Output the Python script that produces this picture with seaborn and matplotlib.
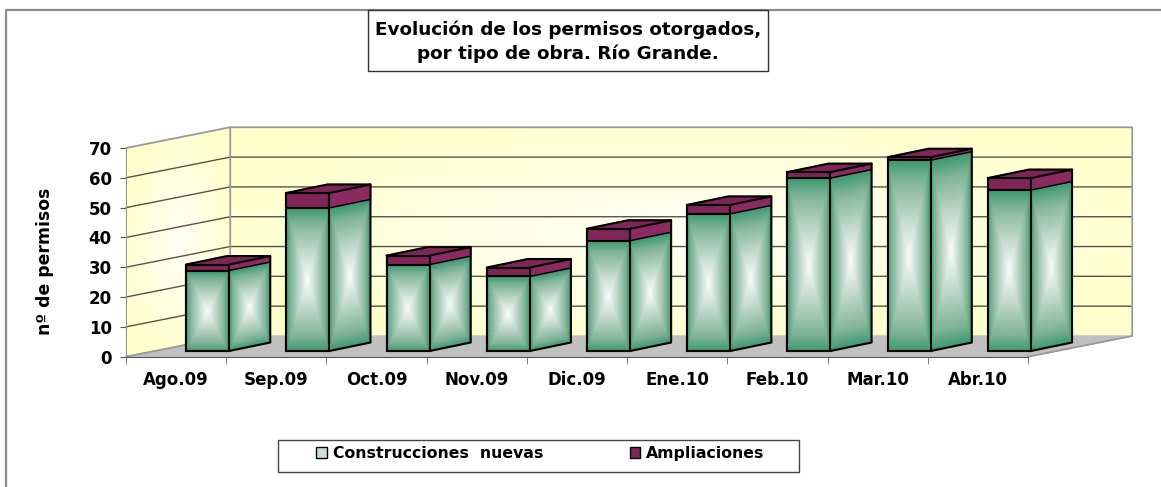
import numpy as np
import pandas as pd
import matplotlib
matplotlib.use("Agg")
import matplotlib.pyplot as plt
from matplotlib.colors import LinearSegmentedColormap
from matplotlib.lines import Line2D
from matplotlib.patches import Rectangle
import seaborn as sns

meses = ["Ago.09", "Sep.09", "Oct.09", "Nov.09", "Dic.09", "Ene.10", "Feb.10", "Mar.10", "Abr.10"]
nuevas = [27, 48, 29, 25, 37, 46, 58, 64, 54]
ampliaciones = [2, 5, 3, 3, 4, 3, 2, 1, 4]
ticks_y = [0, 10, 20, 30, 40, 50, 60, 70]

VERDE = "#3b9a70"
ROJO = "#7f2558"
W, H = 1161, 487

sns.set_style("ticks")
plt.rcParams["font.family"] = ["DejaVu Sans"]
plt.rcParams["font.weight"] = "bold"
plt.rcParams["text.color"] = "black"
plt.rcParams["axes.labelcolor"] = "black"
plt.rcParams["xtick.labelcolor"] = "black"
plt.rcParams["ytick.labelcolor"] = "black"

df = pd.DataFrame({"pos": np.arange(len(meses)), "nuevas": nuevas, "ampliaciones": ampliaciones})
df["total"] = df.nuevas + df.ampliaciones

fig = plt.figure(figsize=(W / 100, H / 100), dpi=100)
fig.patch.set_facecolor("white")


def caja(x0, y0, x1, y1):
    # pixels of the picture -> figure fractions
    return [x0 / W, 1 - y1 / H, (x1 - x0) / W, (y1 - y0) / H]


malla_u, malla_v = np.meshgrid(np.linspace(-1, 1, 61), np.linspace(-1, 1, 61))
s = (malla_u + 1) / 2
r = (malla_v + 1) / 2
brillo = np.maximum(np.abs(malla_u), np.abs(malla_v))

# front plane of the chart, axis and walls hang from this one
ax = fig.add_axes(caja(126, 148, 1028, 356.7))
ax.set_xlim(-0.5, 8.5)
ax.set_ylim(0, 70)
fondo_x = 1.04
fondo_y = 6.95

cmap_pared = LinearSegmentedColormap.from_list("pared", ["#fffff6", "#ffffe2", "#ffffcc"])
# left wall
ax.pcolormesh(-0.5 + fondo_x * s, fondo_y * s + 70 * r, np.hypot(malla_u, malla_v) / 1.1, cmap=cmap_pared,
              vmin=0, vmax=1, shading="gouraud", clip_on=False, zorder=0)
# back wall
ax.pcolormesh(-0.5 + fondo_x + 9 * s, fondo_y + 70 * r, np.hypot(malla_u, malla_v) / 1.1, cmap=cmap_pared,
              vmin=0, vmax=1, shading="gouraud", clip_on=False, zorder=0)
# floor
ax.fill([-0.5, 8.5, 8.5 + fondo_x, -0.5 + fondo_x], [0, 0, fondo_y, fondo_y], color="#c0c0c0", clip_on=False, zorder=0.5)

for t in ticks_y[1:-1]:
    ax.plot([-0.5, -0.5 + fondo_x, 8.5 + fondo_x], [t, t + fondo_y, t + fondo_y], color="#55554a", lw=1, clip_on=False, zorder=0.6)
ax.plot([-0.5, -0.5 + fondo_x, 8.5 + fondo_x, 8.5 + fondo_x, 8.5],
        [70, 70 + fondo_y, 70 + fondo_y, fondo_y, 0], color="#999999", lw=1.3, clip_on=False, zorder=0.7)
ax.plot([-0.5 + fondo_x, -0.5 + fondo_x, -0.5], [70 + fondo_y, fondo_y, 0], color="#999999", lw=1.3, clip_on=False, zorder=0.7)

ax.set_yticks(ticks_y)
ax.set_xticks(np.arange(9))
ax.set_xticklabels(meses, fontsize=12)
ax.set_xticks(np.arange(-0.5, 9, 1), minor=True)
ax.tick_params(axis="x", which="major", length=0, pad=10.5)
ax.tick_params(axis="x", which="minor", length=5, color="#666666")
ax.tick_params(axis="y", length=4.3, color="#555555", labelsize=12, pad=6)
sns.despine(ax=ax, top=True, right=True)
ax.spines["left"].set_color("#999999")
ax.spines["bottom"].set_color("#555555")
ax.patch.set_alpha(0)
fig.text(45 / W, 1 - 261.5 / H, "nº de permisos", rotation=90, ha="center", va="center", fontsize=12.4, fontweight="bold")

# the bars stand a bit behind the front plane
bx = fig.add_axes(caja(126 + 31.5, 148 - 5.7, 1028 + 31.5, 356.7 - 5.7))
bx.patch.set_alpha(0)
sns.barplot(data=df, x="pos", y="total", native_scale=True, color=ROJO, width=0.43, saturation=1, ax=bx,
            edgecolor="black", linewidth=1.5, zorder=3)
n_rojas = len(bx.patches)
sns.barplot(data=df, x="pos", y="nuevas", native_scale=True, color=VERDE, width=0.43, saturation=1, ax=bx,
            edgecolor="black", linewidth=1.5, zorder=3)

prof_x = 0.41
prof_y = 2.85
cmap_verde = LinearSegmentedColormap.from_list(
    "verde", [(0, "#fbfdfb"), (0.45, "#b9d4c6"), (0.8, "#7fb398"), (1, VERDE)])


def cara(x0, x1, y0, y1, sesgo):
    bx.pcolormesh(x0 + (x1 - x0) * s, y0 + (y1 - y0) * r + sesgo * s, brillo,
                  cmap=cmap_verde, vmin=0, vmax=1, shading="gouraud", zorder=2, clip_on=False)


rojas = bx.patches[:n_rojas]
verdes = bx.patches[n_rojas:]
for pr, pv in zip(rojas, verdes):
    x0 = pv.get_x()
    x1 = x0 + pv.get_width()
    top_v = pv.get_height()
    top_r = pr.get_height()
    pr.set_clip_on(False)
    pv.set_clip_on(False)
    pr.set_zorder(1.5)
    cara(x0, x1, 0, top_v, 0)
    pv.set_facecolor("none")
    cara(x1, x1 + prof_x, 0, top_v, prof_y)
    # side and top of the purple block
    bx.fill([x1, x1 + prof_x, x1 + prof_x, x1], [top_v, top_v + prof_y, top_r + prof_y, top_r],
            color="#8c2a62", zorder=2.5, clip_on=False)
    bx.fill([x0, x1, x1 + prof_x, x0 + prof_x], [top_r, top_r, top_r + prof_y, top_r + prof_y],
            color=ROJO, zorder=2.5, clip_on=False)
    # black edges of the block
    bx.plot([x0, x1], [top_r, top_r], color="black", lw=1.5, zorder=4, clip_on=False)
    bx.plot([x1, x1], [top_v, top_r], color="black", lw=1.5, zorder=4, clip_on=False)
    bx.plot([x0, x0], [top_v, top_r], color="black", lw=1.5, zorder=4, clip_on=False)
    bx.plot([x1, x1 + prof_x, x1 + prof_x, x1], [0, prof_y, top_r + prof_y, top_r], color="black", lw=1.5, zorder=4, clip_on=False)
    bx.plot([x0, x0 + prof_x, x1 + prof_x], [top_r, top_r + prof_y, top_r + prof_y], color="black", lw=1.5, zorder=4, clip_on=False)
    bx.plot([x1, x1 + prof_x], [top_v, top_v + prof_y], color="black", lw=1, zorder=4, clip_on=False)

bx.set_xlim(-0.5, 8.5)
bx.set_ylim(0, 70)
bx.axis("off")

# outer frame: only top and left are visible
fig.add_artist(Line2D([6 / W, 6 / W, 1], [0, 1 - 9.5 / H, 1 - 9.5 / H], color="#8c8c8c", lw=1.6))
fig.add_artist(Rectangle((368 / W, 1 - 71 / H), 400 / W, 61 / H, transform=fig.transFigure,
                         facecolor="white", edgecolor="#333333", lw=1, zorder=5))
fig.text(568 / W, 1 - 41.5 / H, "Evolución de los permisos otorgados,\npor tipo de obra. Río Grande.",
         ha="center", va="center", fontsize=13.2, linespacing=1.36, fontweight="bold", zorder=6)

fig.add_artist(Rectangle((278 / W, 1 - 472 / H), 521 / W, 32 / H, transform=fig.transFigure,
                         facecolor="white", edgecolor="#444444", lw=1, zorder=5))
leg_h = [Rectangle((0, 0), 1, 1, facecolor="#c9e0d3", edgecolor="black", lw=1),
         Rectangle((0, 0), 1, 1, facecolor=ROJO, edgecolor="black", lw=1)]
leg = fig.legend(leg_h, ["Construcciones  nuevas", "Ampliaciones"], ncol=2, loc="center",
                 bbox_to_anchor=(540.5 / W, 1 - 453.5 / H), frameon=False, fontsize=11.3,
                 handlelength=0.65, handleheight=0.65, handletextpad=0.4, columnspacing=5.5,
                 borderpad=0, borderaxespad=0)
leg.set_zorder(6)

fig.savefig("out.png", dpi=100, facecolor="white")
